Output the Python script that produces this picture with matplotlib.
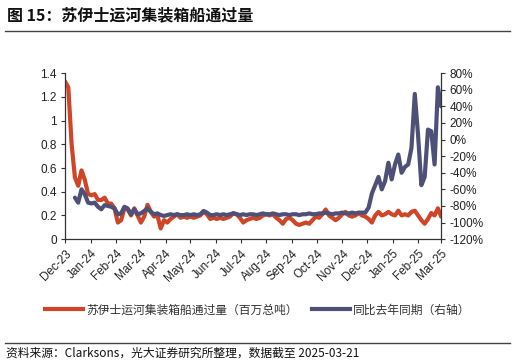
import numpy as np
import pandas as pd
import matplotlib
matplotlib.use("Agg")
import matplotlib.pyplot as plt
from matplotlib.lines import Line2D

plt.rcParams['font.family'] = ['Noto Sans CJK SC', 'DejaVu Sans']

# data: sampled every 4 days from 2023-12-21 to 2025-03-21
dates = pd.date_range("2023-12-21", "2025-03-21", freq="4D")

# Suez canal container ship transits (million GT)
transit = [
    1.33, 1.28, 0.80, 0.52, 0.45, 0.58, 0.50, 0.38, 0.37, 0.38,
    0.33, 0.33, 0.35, 0.30, 0.30, 0.26, 0.14, 0.16, 0.26, 0.25,
    0.20, 0.26, 0.20, 0.14, 0.19, 0.29, 0.23, 0.19, 0.20, 0.09,
    0.16, 0.14, 0.17, 0.19, 0.21, 0.18, 0.19, 0.18, 0.19, 0.18,
    0.19, 0.20, 0.23, 0.21, 0.17, 0.18, 0.17, 0.18, 0.17, 0.18,
    0.19, 0.22, 0.21, 0.18, 0.14, 0.16, 0.17, 0.18, 0.17, 0.18,
    0.20, 0.21, 0.20, 0.21, 0.18, 0.16, 0.13, 0.17, 0.18, 0.16,
    0.13, 0.12, 0.13, 0.14, 0.13, 0.16, 0.19, 0.18, 0.21, 0.25,
    0.20, 0.18, 0.16, 0.18, 0.21, 0.23, 0.20, 0.19, 0.20, 0.22,
    0.20, 0.19, 0.17, 0.14, 0.20, 0.23, 0.20, 0.21, 0.23, 0.21,
    0.20, 0.24, 0.20, 0.21, 0.20, 0.23, 0.24, 0.20, 0.16, 0.13,
    0.17, 0.22, 0.20, 0.26, 0.19,
]

# year-on-year change (%), right axis
yoy = [
    np.nan, np.nan, np.nan, -70, -76, -60, -66, -76, -77, -76,
    -81, -84, -79, -80, -81, -83, -90, -89, -81, -83,
    -90, -84, -90, -89, -86, -83, -87, -90, -89, -91,
    -92, -91, -90, -91, -90, -91, -91, -90, -91, -90,
    -91, -90, -86, -88, -91, -91, -90, -91, -90, -91,
    -90, -89, -90, -91, -90, -91, -90, -90, -91, -90,
    -89, -90, -90, -89, -90, -91, -90, -90, -91, -90,
    -90, -91, -90, -90, -89, -90, -90, -89, -89, -88,
    -89, -90, -89, -89, -88, -89, -89, -88, -89, -88,
    -88, -88, -82, -65, -55, -45, -60, -50, -28, -48,
    -30, -18, -40, -33, -30, -10, 55, 5, -55, -45,
    12, 10, -30, 63, 40,
]

red = '#CF4527'
blue = '#4F5077'
tick_font = 'Liberation Sans'

fig = plt.figure(figsize=(5.16, 3.64), dpi=100)
ax = fig.add_axes([0.126, 0.343, 0.729, 0.456])
ax2 = ax.twinx()

ax.plot(dates, transit, color=red, lw=3.0, solid_capstyle='round')
ax2.plot(dates, yoy, color=blue, lw=3.0, solid_capstyle='round')

ax.set_ylim(0, 1.4)
ax.set_yticks(np.arange(0, 1.41, 0.2))
ax.set_yticklabels(['0', '0.2', '0.4', '0.6', '0.8', '1', '1.2', '1.4'])
ax2.set_ylim(-120, 80)
ax2.set_yticks(np.arange(-120, 81, 20))
ax2.set_yticklabels([f'{v}%' for v in range(-120, 81, 20)])

xt = pd.date_range("2023-12-01", "2025-03-01", freq="MS") + pd.Timedelta(days=20)
ax.set_xlim(dates[0], pd.Timestamp("2025-03-21"))
ax.set_xticks(xt)
ax.set_xticklabels([d.strftime('%b-%y') for d in xt], rotation=45,
                   ha='right', rotation_mode='anchor')

for a in (ax, ax2):
    a.spines['top'].set_visible(False)
    for s in a.spines.values():
        s.set_color('#333333')
        s.set_linewidth(0.9)
    a.tick_params(length=3, width=0.8, color='#333333', labelsize=8.5,
                  labelcolor='#222222', pad=3)
    for lab in a.get_xticklabels() + a.get_yticklabels():
        lab.set_fontfamily(tick_font)
ax.spines['right'].set_visible(False)
ax2.spines['left'].set_visible(False)
ax2.spines['bottom'].set_visible(False)

# title and rules
fig.text(0.014, 0.958, '图 15：苏伊士运河集装箱船通过量', fontsize=11.5,
         fontweight='bold', va='center', color='#111111')
fig.add_artist(Line2D([0.01, 0.988], [0.915, 0.915], color='#444444', lw=1.0))
fig.add_artist(Line2D([0.01, 0.988], [0.058, 0.058], color='#444444', lw=1.0))
fig.text(0.012, 0.03, '资料来源：Clarksons，光大证券研究所整理，数据截至 2025-03-21',
         fontsize=8.5, va='center', color='#111111')

handles = [Line2D([], [], color=red, lw=3.0), Line2D([], [], color=blue, lw=3.0)]
fig.legend(handles, ['苏伊士运河集装箱船通过量（百万总吨）', '同比去年同期（右轴）'],
           loc='center', bbox_to_anchor=(0.5, 0.148), ncol=2, frameon=False,
           fontsize=8.5, handlelength=3.2, columnspacing=1.2, handletextpad=0.3,
           labelcolor='#333333')

fig.savefig('out.png', dpi=100)
